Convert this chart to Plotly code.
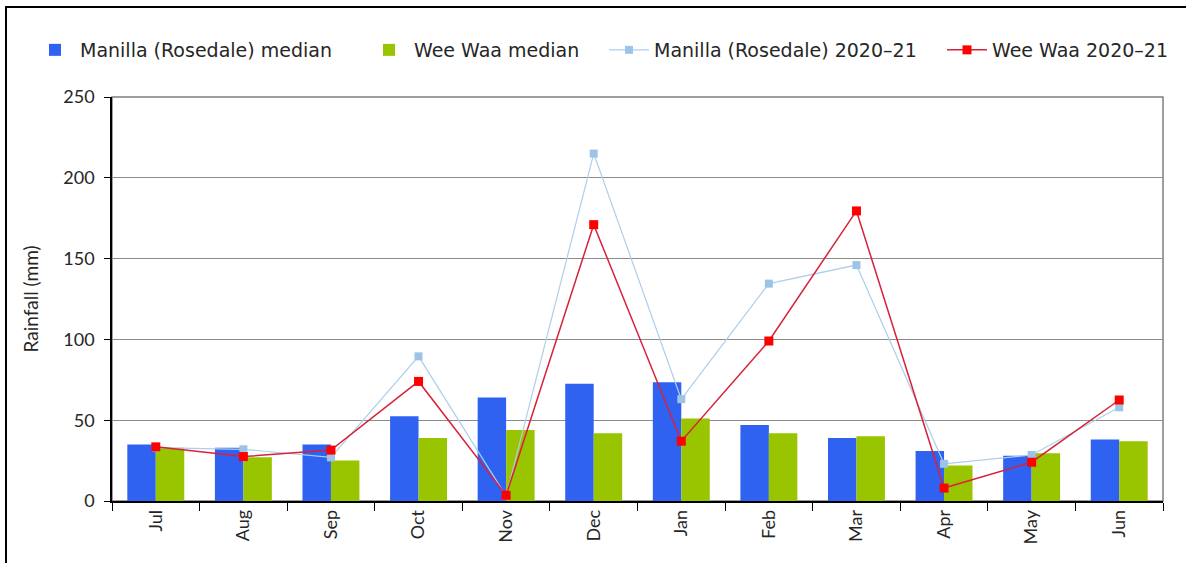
import plotly.graph_objects as go

months = ["Jul", "Aug", "Sep", "Oct", "Nov", "Dec", "Jan", "Feb", "Mar", "Apr", "May", "Jun"]
manilla_median = [35, 33, 35, 52.5, 64, 72.5, 73.5, 47, 39, 31, 28, 38]
weewaa_median = [33, 27, 25, 39, 44, 42, 51, 42, 40, 22, 29.5, 37]
manilla_2020 = [33, 32, 27, 89.5, 3, 215, 63, 134.5, 146, 23, 28.5, 58]
weewaa_2020 = [33.5, 27.5, 31.5, 74, 3.5, 171, 37, 99, 179.5, 8, 24, 62.5]
y_ticks = [0, 50, 100, 150, 200, 250]

FONT = "Lato"
LEG_FONT = "DejaVu Sans"
TXT = "#262626"

W, H = 1186, 563
L, R, T, B = 112, 23, 97, 62
pw, ph = W - L - R, H - T - B


def px_x(x):
    return (x - L) / pw


def px_y(y):
    return (H - B - y) / ph


fig = go.Figure()
fig.add_trace(go.Bar(x=months, y=manilla_median, name="Manilla (Rosedale) median", legend="legend",
                     marker=dict(color="#2F62F0", line=dict(width=0))))
fig.add_trace(go.Bar(x=months, y=weewaa_median, name="Wee Waa median", legend="legend2",
                     marker=dict(color="#99C400", line=dict(width=0))))
fig.add_trace(go.Scatter(x=months, y=manilla_2020, name="Manilla (Rosedale) 2020\u201321", legend="legend3",
                         mode="lines+markers",
                         line=dict(color="#ADCFEC", width=1.2),
                         marker=dict(symbol="square", size=8, color="#9DC3E6")))
fig.add_trace(go.Scatter(x=months, y=weewaa_2020, name="Wee Waa 2020\u201321", legend="legend4",
                         mode="lines+markers",
                         line=dict(color="#D8213A", width=1.5),
                         marker=dict(symbol="square", size=9, color="#FF0000")))


def leg(text_start):
    return dict(orientation="h", x=px_x(text_start - 50), y=px_y(50), xanchor="left", yanchor="middle",
                font=dict(family=LEG_FONT, size=19, color=TXT), itemwidth=40,
                bgcolor="rgba(0,0,0,0)")


fig.update_layout(
    width=W, height=H,
    margin=dict(l=L, r=R, t=T, b=B),
    paper_bgcolor="white", plot_bgcolor="white",
    font=dict(family=FONT, size=17, color=TXT),
    barmode="group", bargap=0.35, bargroupgap=0.0,
    showlegend=True,
    legend=leg(80),
    legend2=leg(414),
    legend3=leg(654),
    legend4=leg(992),
    xaxis=dict(type="category", range=[-0.5, 11.5], showgrid=False, showline=True,
               linecolor="black", linewidth=1.5,
               ticks="outside", tickson="boundaries", ticklen=8, tickcolor="black",
               tickangle=-90, tickfont=dict(family=FONT, size=18, color=TXT),
               zeroline=False),
    yaxis=dict(range=[0, 250], tickvals=y_ticks, showgrid=True, gridcolor="#8C8C8C", gridwidth=1,
               showline=True, linecolor="black", linewidth=1.5, ticks="outside", ticklen=6,
               tickcolor="black", zeroline=False, ticklabelstandoff=6,
               tickfont=dict(family=FONT, size=18, color=TXT),
               title=dict(text="Rainfall (mm)", font=dict(family=FONT, size=19, color=TXT), standoff=20)),
    shapes=[
        dict(type="rect", xref="paper", yref="paper", x0=0, x1=1, y0=0, y1=1,
             line=dict(color="#7F7F7F", width=1.5), layer="below"),
        dict(type="rect", xref="paper", yref="paper",
             x0=px_x(6), x1=px_x(1195), y0=px_y(7), y1=px_y(575),
             line=dict(color="black", width=2)),
    ],
)

fig.write_html("out.html", config={"displayModeBar": False},
               post_script="document.body.style.margin='0px';")
